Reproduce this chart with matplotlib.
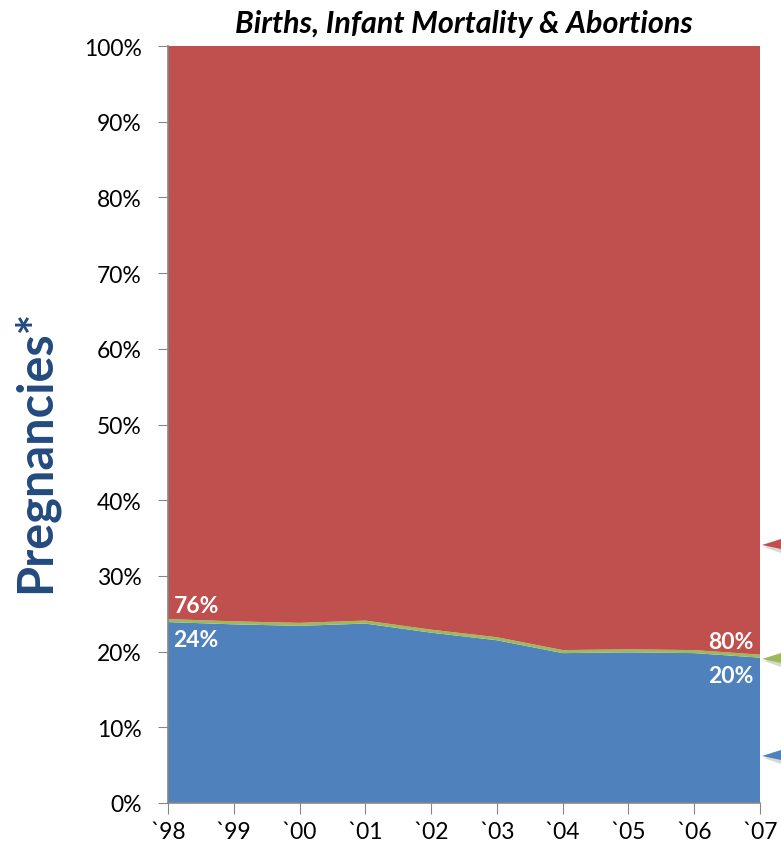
import matplotlib.pyplot as plt
from matplotlib.patches import Polygon
from matplotlib.ticker import FuncFormatter

years = ["`98", "`99", "`00", "`01", "`02", "`03", "`04", "`05", "`06", "`07"]
births = [23.9, 23.6, 23.4, 23.7, 22.5, 21.5, 19.8, 19.9, 19.8, 19.2]
infant_mortality = [0.4, 0.4, 0.4, 0.4, 0.4, 0.4, 0.4, 0.4, 0.4, 0.4]
abortions = [100 - b - m for b, m in zip(births, infant_mortality)]

first_labels = ("76%", "24%")
last_labels = ("80%", "20%")

BLUE = "#4F81BD"
GREEN = "#9BBB59"
RED = "#C0504D"
FONT = "Lato"

W, H = 781, 854
fig = plt.figure(figsize=(W / 100, H / 100), dpi=100)
ax = fig.add_axes([168 / W, 1 - 804 / H, (760 - 168) / W, (804 - 47) / H])

x = list(range(len(years)))
ax.stackplot(x, births, infant_mortality, abortions,
             colors=[BLUE, GREEN, RED], linewidth=0)

ax.set_xlim(0, len(years) - 1)
ax.set_ylim(0, 100)
ax.set_xticks(x)
ax.set_xticklabels(years, fontsize=16.5, fontname=FONT)
ax.set_yticks(range(0, 101, 10))
ax.yaxis.set_major_formatter(FuncFormatter(lambda v, p: f"{v:.0f}%"))
for lbl in ax.get_yticklabels():
    lbl.set_fontname(FONT)
    lbl.set_fontsize(16.5)

for side in ("top", "right"):
    ax.spines[side].set_visible(False)
for side in ("left", "bottom"):
    ax.spines[side].set_color("#868686")
    ax.spines[side].set_linewidth(1.2)
ax.tick_params(axis="y", length=7, color="#868686", pad=12)
ax.tick_params(axis="x", length=8, color="#868686", pad=5)

ax.set_title("Births, Infant Mortality & Abortions", fontsize=22,
             fontweight="bold", style="italic", fontname=FONT, pad=10)
fig.text(35 / W, 1 - 451 / H, "Pregnancies*", rotation=90, fontsize=35,
         fontweight="bold", color="#234A7E", fontname=FONT,
         ha="center", va="center")

# data labels
lab = dict(color="white", fontsize=16.5, fontweight="bold", fontname=FONT,
           textcoords="offset points")
top0 = births[0] + infant_mortality[0]
ax.annotate(first_labels[0], (0, top0), xytext=(4, 2), ha="left", va="bottom", **lab)
ax.annotate(first_labels[1], (0, births[0]), xytext=(4, -5), ha="left", va="top", **lab)
topn = births[-1] + infant_mortality[-1]
ax.annotate(last_labels[0], (x[-1], topn), xytext=(-5, 2), ha="right", va="bottom", **lab)
ax.annotate(last_labels[1], (x[-1], births[-1]), xytext=(-5, -5), ha="right", va="top", **lab)

# pointer arrows cut off at the right edge
for ty, col in ((546, RED), (660, GREEN), (757, BLUE)):
    shadow = [(764 / W, 1 - (ty + 2) / H), (1, 1 - (ty - 2) / H), (1, 1 - (ty + 8) / H)]
    fig.patches.append(Polygon(shadow, closed=True, transform=fig.transFigure,
                               facecolor="#BBBBBB", edgecolor="none", alpha=0.6))
    tri = [(762 / W, 1 - ty / H), (1, 1 - (ty - 6) / H), (1, 1 - (ty + 4) / H)]
    fig.patches.append(Polygon(tri, closed=True, transform=fig.transFigure,
                               facecolor=col, edgecolor="none"))

fig.savefig("out.png", dpi=100)
